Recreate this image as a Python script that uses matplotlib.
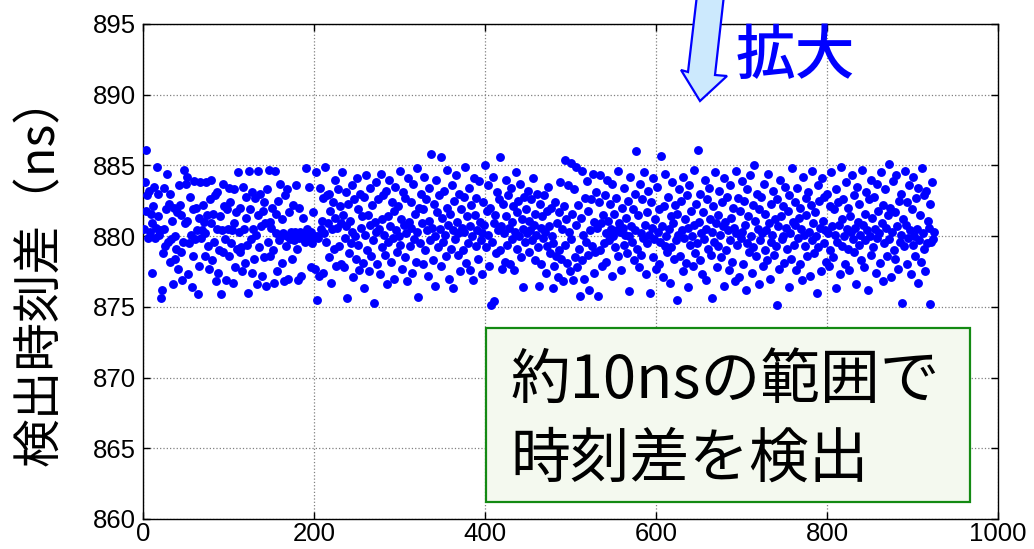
import matplotlib
matplotlib.use("Agg")
import matplotlib.pyplot as plt
import matplotlib.patches as patches
import numpy as np

# detection time difference (ns) per trial
time_diff = [
    880.5, 883.8, 886.1, 881.8, 882.9, 879.9, 883.2, 880.3, 881.6, 877.4, 880.9, 882.1, 883.5, 879.9, 880.6, 884.9, 881.4, 883.0, 880.1, 880.4, 875.6, 876.2, 878.8, 880.5, 883.4,
    879.3, 881.9, 884.4, 879.6, 882.3, 878.2, 883.0, 879.8, 881.1, 876.6, 882.0, 878.4, 880.0, 879.1, 881.7, 877.7, 883.6, 882.2, 878.9, 881.5, 876.9, 879.6, 884.7, 880.9, 883.7,
    881.1, 884.2, 877.3, 879.5, 882.8, 880.1, 876.4, 881.9, 878.6, 883.9, 879.8, 882.0, 880.4, 875.9, 881.3, 877.9, 883.8, 879.9, 880.4, 882.2, 881.0, 878.6, 880.2, 883.8, 881.5,
    879.3, 877.7, 882.6, 880.9, 884.0, 878.3, 881.6, 879.6, 882.9, 876.8, 880.5, 883.1, 877.4, 879.0, 881.4, 875.9, 880.4, 883.7, 878.9, 882.1, 879.8, 876.9, 881.9, 880.5, 883.4,
    878.6, 882.4, 879.5, 880.4, 876.7, 883.3, 880.9, 877.8, 881.7, 879.1, 884.5, 880.3, 878.9, 882.0, 879.2, 877.5, 883.5, 880.5, 878.1, 881.3, 882.8, 879.4, 876.0, 884.6, 881.9,
    879.8, 877.4, 883.1, 880.5, 878.4, 882.7, 880.1, 876.6, 884.6, 881.5, 879.2, 883.0, 880.7, 877.2, 881.8, 878.5, 882.4, 880.9, 876.5, 883.3, 879.6, 884.7, 881.0, 878.6, 880.6,
    882.0, 879.0, 876.7, 884.6, 881.6, 880.2, 877.5, 882.5, 879.7, 883.7, 880.0, 878.1, 881.2, 880.2, 876.8, 882.9, 879.3, 883.3, 880.0, 877.0, 881.7, 879.8, 880.3, 878.4, 882.2,
    880.1, 879.7, 880.3, 883.6, 879.1, 876.9, 882.0, 879.9, 880.3, 877.2, 880.0, 881.3, 879.8, 880.2, 879.6, 884.8, 880.5, 879.9, 883.5, 880.1, 877.8, 880.3, 879.5, 881.7, 880.0,
    877.7, 884.5, 880.0, 875.5, 879.9, 877.2, 883.4, 880.5, 881.1, 877.4, 882.7, 880.2, 884.9, 879.6, 882.9, 880.9, 878.5, 883.0, 881.8, 876.7, 880.5, 882.4, 879.1, 884.0, 881.3,
    877.9, 880.6, 883.3, 879.3, 882.1, 878.0, 880.9, 884.5, 881.5, 877.8, 879.9, 883.1, 880.7, 875.6, 882.3, 878.8, 881.1, 879.5, 883.6, 880.3, 877.1, 882.6, 880.0, 878.4, 884.1,
    881.9, 879.4, 877.6, 883.0, 880.6, 881.4, 878.1, 876.3, 882.8, 880.1, 884.3, 879.0, 881.5, 877.5, 883.4, 880.8, 878.6, 882.2, 879.7, 875.3, 881.0, 883.8, 880.3, 878.0, 882.6,
    880.5, 877.3, 884.4, 881.2, 879.2, 882.9, 880.1, 878.7, 883.2, 876.6, 881.4, 879.6, 884.0, 880.7, 878.2, 882.4, 879.9, 881.8, 877.0, 883.5, 880.4, 878.9, 882.1, 880.0, 884.6,
    879.4, 881.2, 877.7, 883.1, 880.8, 878.5, 882.7, 880.2, 876.8, 884.1, 881.0, 879.3, 882.4, 880.6, 877.4, 883.7, 879.8, 881.6, 878.2, 884.8, 880.3, 875.7, 882.0, 879.5, 883.0,
    880.9, 878.0, 881.9, 884.2, 879.0, 882.6, 880.4, 877.2, 883.4, 881.1, 879.7, 885.8, 880.6, 878.3, 882.3, 880.0, 876.5, 884.0, 881.7, 879.2, 882.9, 880.5, 877.9, 885.6, 881.3,
    879.6, 883.2, 880.1, 878.6, 882.0, 884.7, 880.8, 877.0, 881.6, 879.1, 883.6, 880.4, 876.3, 882.5, 879.8, 884.3, 881.0, 878.7, 880.2, 883.0, 877.5, 881.9, 880.6, 879.0, 882.8,
    880.3, 884.9, 878.1, 881.4, 879.5, 883.4, 880.7, 877.6, 882.2, 880.0, 876.9, 884.1, 881.5, 879.3, 882.7, 880.4, 878.4, 883.9, 881.0, 879.7, 880.2, 877.3, 882.4, 880.8, 885.0,
    879.2, 881.8, 883.6, 880.1, 877.9, 882.0, 875.1, 879.6, 884.2, 880.9, 875.4, 881.5, 878.8, 883.1, 880.4, 882.6, 879.0, 885.6, 880.7, 877.7, 882.3, 880.2, 878.2, 884.0, 881.4,
    879.4, 882.9, 880.6, 878.0, 883.4, 881.0, 879.8, 882.1, 877.6, 880.3, 884.5, 881.7, 879.1, 882.5, 880.0, 883.7, 878.5, 881.2, 880.5, 876.4, 882.8, 879.6, 881.9, 880.2, 883.2,
    878.9, 881.1, 880.4, 882.6, 879.7, 884.1, 880.8, 878.3, 881.6, 880.1, 883.0, 879.2, 876.5, 882.3, 880.6, 878.0, 881.4, 879.9, 882.9, 880.3, 877.4, 881.8, 879.3, 883.5, 880.7,
    878.8, 882.0, 880.0, 876.3, 879.5, 877.9, 882.4, 878.6, 880.9, 877.1, 881.7, 879.0, 883.8, 878.4, 880.5, 876.8, 882.1, 879.4, 885.4, 881.2, 878.1, 883.6, 880.3, 877.5, 885.2,
    879.8, 881.6, 876.9, 883.3, 878.5, 880.8, 884.9, 877.8, 882.2, 879.1, 875.8, 881.3, 878.3, 884.6, 880.1, 877.0, 882.7, 879.6, 883.9, 878.7, 881.8, 876.2, 880.4, 882.6, 879.3,
    884.4, 877.4, 881.0, 878.9, 883.1, 880.6, 875.8, 882.4, 879.0, 884.3, 880.9, 877.9, 881.5, 879.5, 882.9, 880.2, 878.2, 884.0, 881.1, 879.7, 882.3, 880.5, 877.2, 883.7, 880.0,
    881.6, 879.2, 882.7, 880.4, 878.6, 884.6, 880.9, 880.3, 877.6, 882.0, 880.6, 879.4, 883.4, 880.1, 881.3, 878.8, 882.5, 880.0, 876.1, 884.2, 880.7, 879.6, 881.9, 878.3, 883.0,
    880.4, 886.0, 879.1, 881.5, 877.8, 883.7, 880.2, 878.7, 882.6, 879.9, 884.5, 880.8, 877.3, 881.7, 879.5, 883.2, 880.1, 876.0, 882.4, 880.6, 878.5, 884.1, 879.8, 881.2, 877.7,
    883.5, 880.3, 878.0, 881.9, 879.6, 885.7, 880.7, 877.1, 882.1, 879.3, 884.4, 880.0, 878.9, 882.8, 880.5, 876.7, 881.4, 879.2, 883.8, 880.9, 878.4, 882.2, 879.7, 875.5, 881.6,
    880.1, 883.3, 878.6, 882.5, 880.4, 877.5, 884.2, 879.9, 881.2, 878.1, 882.9, 880.6, 876.4, 883.6, 879.4, 881.8, 880.0, 877.9, 884.7, 880.8, 878.8, 882.3, 879.5, 886.1, 881.0,
    878.3, 883.0, 880.2, 877.3, 881.7, 879.8, 884.0, 880.5, 876.9, 882.6, 879.1, 883.4, 881.2, 878.7, 880.3, 875.6, 882.1, 879.6, 884.5, 880.9, 877.8, 881.5, 879.3, 883.2, 880.1,
    878.5, 882.4, 880.7, 876.5, 884.1, 881.0, 879.0, 882.8, 880.4, 877.6, 883.6, 879.7, 881.3, 878.2, 882.0, 880.6, 876.8, 884.6, 880.2, 879.4, 882.7, 877.1, 881.8, 879.9, 883.9,
    880.3, 878.0, 882.5, 880.8, 876.2, 883.3, 879.5, 881.4, 878.9, 884.3, 880.0, 877.4, 882.2, 879.2, 885.0, 881.1, 878.6, 883.0, 880.5, 876.6, 881.9, 879.7, 882.8, 880.2, 877.9,
    883.7, 879.0, 881.6, 880.4, 878.3, 884.4, 880.9, 877.0, 882.3, 879.6, 880.1, 883.2, 878.7, 881.2, 879.3, 875.1, 882.6, 880.7, 877.7, 884.0, 881.4, 879.8, 882.1, 880.0, 878.1,
    883.5, 880.6, 879.1, 881.8, 876.4, 882.9, 880.2, 878.4, 884.8, 881.0, 879.4, 882.4, 880.8, 877.6, 883.4, 879.9, 881.3, 878.0, 882.0, 880.5, 876.9, 884.2, 880.1, 879.3, 882.7,
    881.5, 878.6, 883.1, 880.3, 877.2, 882.2, 879.7, 884.6, 880.9, 878.8, 881.7, 880.0, 876.0, 883.6, 879.2, 882.5, 880.6, 877.5, 884.1, 881.1, 879.5, 882.8, 880.4, 878.2, 883.0,
    880.2, 877.9, 882.1, 879.0, 884.5, 880.7, 878.5, 881.9, 880.1, 876.3, 883.3, 879.6, 882.4, 880.8, 877.3, 884.9, 881.2, 879.3, 882.6, 880.0, 878.0, 883.8, 880.5, 879.1, 882.0,
    877.6, 881.4, 880.3, 884.3, 879.8, 882.9, 878.9, 880.6, 876.6, 883.5, 881.0, 879.4, 882.3, 880.1, 878.3, 884.7, 880.8, 877.8, 881.6, 879.7, 883.1, 880.4, 876.2, 882.6, 880.0,
    878.7, 884.0, 881.3, 879.2, 882.8, 880.5, 877.4, 883.7, 879.9, 881.8, 880.2, 878.1, 884.5, 880.9, 876.8, 882.2, 879.5, 883.3, 880.6, 878.6, 881.5, 885.1, 879.8, 882.0, 877.1,
    880.3, 883.9, 879.0, 881.7, 878.4, 884.3, 880.7, 877.7, 882.5, 879.6, 880.1, 883.0, 875.3, 881.2, 879.3, 884.6, 880.8, 878.0, 882.4, 879.9, 883.6, 880.4, 877.3, 881.9, 879.4,
    884.2, 880.0, 878.6, 882.7, 880.5, 876.7, 883.4, 879.7, 881.5, 878.2, 884.8, 880.2, 879.1, 882.9, 877.5, 883.2, 879.5, 881.1, 880.6, 875.2, 882.3, 879.6, 883.8, 879.8, 880.3,
]
trial = np.arange(1, len(time_diff) + 1)

x_ticks = [0, 200, 400, 600, 800, 1000]
y_ticks = [860, 865, 870, 875, 880, 885, 890, 895]

W, H = 1034, 549
jp = ["Noto Sans CJK JP", "DejaVu Sans"]


def px(x, y):
    # pixel position (from top-left) -> figure fraction
    return x / W, 1 - y / H


fig = plt.figure(figsize=(W / 100, H / 100), dpi=100)
ax = fig.add_axes([143 / W, 1 - 519 / H, (998 - 143) / W, (519 - 24) / H])

ax.plot(trial, time_diff, "o", color="#0000ff", ms=6.4, mec="none", zorder=3)

ax.set_xlim(0, 1000)
ax.set_ylim(860, 895)
ax.set_xticks(x_ticks)
ax.set_yticks(y_ticks)
ax.grid(True, linestyle=":", color="#808080", linewidth=0.9)
ax.tick_params(direction="in", length=5, width=1, top=True, right=True,
               labelsize=18.5, pad=5)
ax.tick_params(axis="x", pad=2)
for lab in ax.get_xticklabels() + ax.get_yticklabels():
    lab.set_family("Liberation Sans")
for s in ax.spines.values():
    s.set_linewidth(1.0)

# y axis title
fig.text(*px(40, 270), "検出時刻差（ns）", rotation=90, ha="center", va="center",
         fontsize=35, family=jp)

# annotation box
bx0, by0 = px(486, 502)
bx1, by1 = px(970, 328)
box = patches.Rectangle((bx0, by0), bx1 - bx0, by1 - by0, transform=fig.transFigure,
                        facecolor="#f4f9ef", edgecolor="#138a13", linewidth=1.6, zorder=5)
fig.add_artist(box)
fig.text(*px(510, 381), "約10nsの範囲で", ha="left", va="center", fontsize=43,
         family=jp, zorder=6)
fig.text(*px(510, 460), "時刻差を検出", ha="left", va="center", fontsize=43,
         family=jp, zorder=6)

# zoom arrow coming in from above
arrow_pts = [px(697, -5), px(688, 72), px(681, 70), px(700, 101),
             px(727, 76), px(715, 75), px(724, -5)]
arrow = patches.Polygon(arrow_pts, closed=True, transform=fig.transFigure,
                        facecolor="#cce9fd", edgecolor="#0000ff", linewidth=1.6,
                        zorder=5, clip_on=False)
fig.add_artist(arrow)
fig.text(*px(736, 56), "拡大", ha="left", va="center", fontsize=43,
         color="#0000ff", family=jp, weight="medium", zorder=6)

fig.savefig("out.png", dpi=100)
